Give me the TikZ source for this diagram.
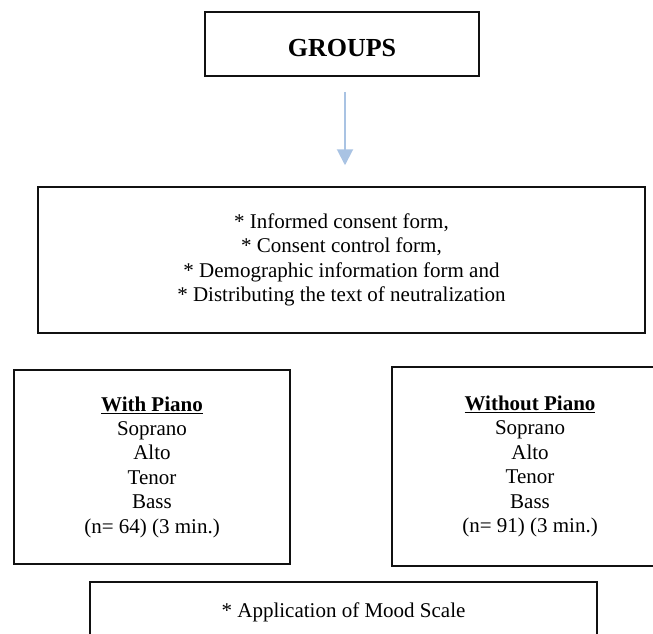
\documentclass[tikz,border=0pt]{standalone}
\usepackage{fontspec}
\setmainfont{Liberation Serif}
\usepackage{xcolor}
\definecolor{grpline}{HTML}{111111}
\definecolor{grparrow}{HTML}{A9C3E3}
\usetikzlibrary{arrows.meta,positioning}
\tikzset{
  grpbox/.style={draw=grpline,line width=1.5pt,align=center,inner sep=0pt,font=\fontsize{21}{24.4}\selectfont},
  grptitle/.style={grpbox,line width=1.8pt,font=\fontsize{26}{30}\selectfont\bfseries},
  grpflow/.style={-{Triangle[length=16pt,width=16pt]},line width=2pt,draw=grparrow},
}

\begin{document}
\begin{tikzpicture}[x=1pt,y=-1pt]
  \useasboundingbox (0,0) rectangle (653,633);
  % header
  \node[grptitle,minimum width=274pt,minimum height=64pt,text height=25pt] (groups) at (342,44) {GROUPS};
  % forms given to everyone
  \node[grpbox,minimum width=607pt,minimum height=146pt] (forms) at (341.5,260)
    {* Informed consent form,\\* Consent control form,\\* Demographic information form and\\* Distributing the text of neutralization};
  \draw[grpflow,shorten >=21pt] ([xshift=3pt,yshift=-15pt]groups.south) -- ([xshift=3pt]groups.south |- forms.north);
  % the two choir groups
  \node[grpbox,minimum width=276pt,minimum height=194pt] (withp) at (152,467)
    {\underline{\textbf{With Piano}}\\Soprano\\Alto\\Tenor\\Bass\\(n= 64) (3 min.)};
  \node[grpbox,minimum width=276pt,minimum height=199pt] (withoutp) at (530,466.5)
    {\underline{\textbf{Without Piano}}\\Soprano\\Alto\\Tenor\\Bass\\(n= 91) (3 min.)};
  % last step
  \node[grpbox,minimum width=507pt,minimum height=60pt] (mood) at (343.5,612) {* Application of Mood Scale};
\end{tikzpicture}
\end{document}
